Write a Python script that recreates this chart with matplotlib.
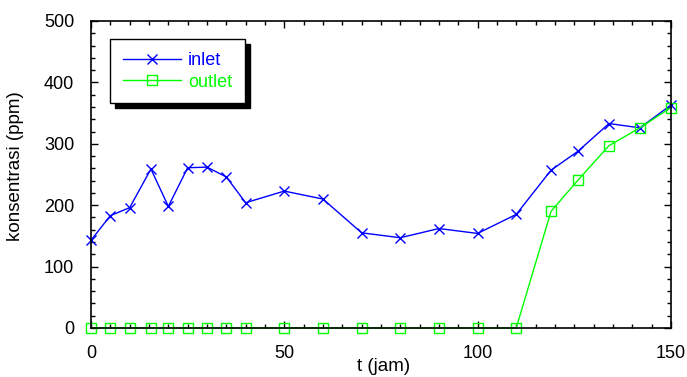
import matplotlib
matplotlib.use("Agg")
import matplotlib.pyplot as plt
from matplotlib.ticker import MultipleLocator

# data
t_inlet = [0, 5, 10, 15.5, 20, 25, 30, 35, 40, 50, 60, 70, 80, 90, 100, 110, 119, 126, 134, 142, 150]
inlet = [143, 183, 196, 259, 198, 261, 262, 246, 204, 223, 210, 155, 147, 162, 154, 185, 257, 288, 333, 326, 363]
t_outlet = [0, 5, 10, 15.5, 20, 25, 30, 35, 40, 50, 60, 70, 80, 90, 100, 110, 119, 126, 134, 142, 150]
outlet = [0, 0, 0, 0, 0, 0, 0, 0, 0, 0, 0, 0, 0, 0, 0, 0, 190, 241, 297, 326, 359]

plt.rcParams['font.family'] = ['Liberation Sans', 'DejaVu Sans']

fig = plt.figure(figsize=(6.87, 3.77), dpi=100)
ax = fig.add_axes([0.1325, 0.13, 0.844, 0.8143])

ax.plot(t_inlet, inlet, color='#0000ff', lw=1.0, marker='x', ms=7.5, mew=1.0, label='inlet', clip_on=False)
ax.plot(t_outlet, outlet, color='#00ff00', lw=1.0, marker='s', ms=7, mfc='none', mew=1.0, label='outlet', clip_on=False)

ax.set_xlim(0, 150)
ax.set_ylim(0, 500)
ax.xaxis.set_major_locator(MultipleLocator(50))
ax.xaxis.set_minor_locator(MultipleLocator(5))
ax.yaxis.set_major_locator(MultipleLocator(100))
ax.yaxis.set_minor_locator(MultipleLocator(20))
ax.tick_params(which='both', direction='in', top=True, right=True, labelsize=13, width=1.0)
ax.tick_params(which='major', length=5, pad=12)
ax.tick_params(which='minor', length=3)
for s in ax.spines.values():
    s.set_linewidth(1.2)

ax.set_xlabel('t (jam)', fontsize=13.5)
ax.set_ylabel('konsentrasi (ppm)', fontsize=13.5)
ax.xaxis.set_label_coords(0.504, -0.098)
ax.yaxis.set_label_coords(-0.115, 0.528)

leg = ax.legend(loc='upper left', bbox_to_anchor=(0.033, 0.94), fancybox=False,
                edgecolor='black', framealpha=1,
                shadow={'color': 'black', 'alpha': 1, 'ox': 3.6, 'oy': -3.6},
                labelcolor='linecolor', fontsize=13, handlelength=3.2, borderpad=0.7,
                labelspacing=0.25, handletextpad=0.4, borderaxespad=0)
leg.get_frame().set_linewidth(1.0)

fig.savefig('out.png', dpi=100)
